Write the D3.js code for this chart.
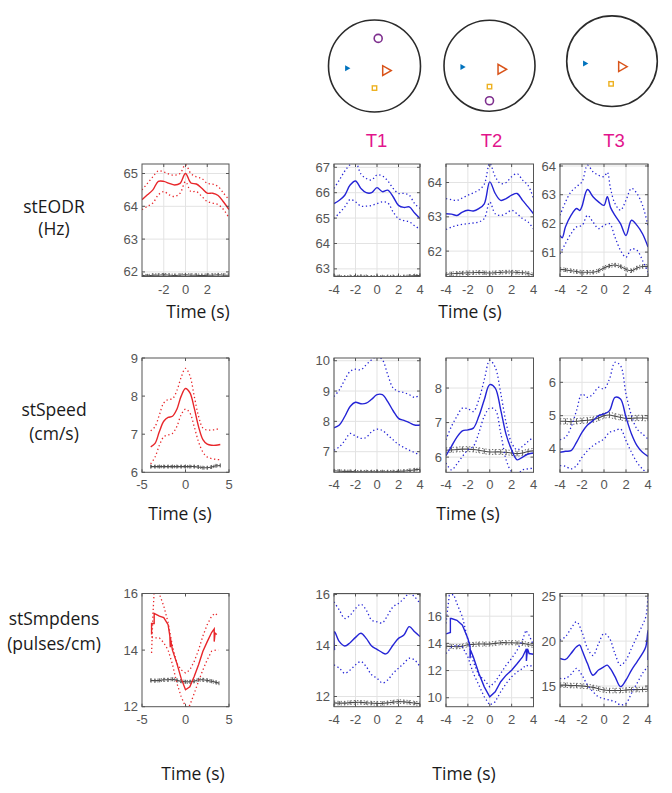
<!DOCTYPE html>
<html><head><meta charset="utf-8">
<script src="https://cdn.jsdelivr.net/npm/d3@7"></script>
<style>html,body{margin:0;padding:0;background:#fff;}svg{display:block;}</style>
</head><body>
<script>
// ---------- DATA ----------
const T = [-4,-3.5,-3,-2.5,-2,-1.5,-1,-0.5,0,0.5,1,1.5,2,2.5,3,3.5,4];
const trialLabels = ["T1","T2","T3"];
const rowLabels = [["stEODR","(Hz)"],["stSpeed","(cm/s)"],["stSmpdens","(pulses/cm)"]];
const xLabel = "Time (s)";

// arena object positions (arena units, -1..1)
const arenaBlue   = [[-0.6,0.05],[-0.6,0.03],[-0.6,0.05]];
const arenaOrange = [[0.24,0.1],[0.25,0.08],[0.21,0.12]];
const arenaYellow = [[0.0,0.48],[0.0,0.46],[-0.02,0.5]];
const arenaPurple = [[0.08,-0.6],[0.0,0.77],null];

// Row 1: stEODR
const eodrLeftMean = [64.2,64.35,64.5,64.76,64.76,64.7,64.65,64.7,65.0,64.71,64.68,64.55,64.4,64.4,64.33,64.13,63.9];
const eodrLeftUp   = [64.5,64.7,64.9,65.08,65.05,64.98,64.95,65.0,65.27,65.0,64.9,64.85,64.7,64.68,64.6,64.4,64.2];
const eodrLeftLo   = [63.9,64.0,64.1,64.35,64.45,64.35,64.3,64.4,64.75,64.45,64.45,64.3,64.15,64.1,64.05,63.9,63.65];
const eodrLeftCtl  = [61.9,61.88,61.9,61.9,61.91,61.9,61.89,61.9,61.91,61.9,61.9,61.89,61.9,61.9,61.91,61.9,61.9];

const eodrT1Mean = [65.57,65.7,65.9,66.3,66.46,66.17,66.0,66.0,66.2,66.04,66.1,65.84,65.5,65.42,65.44,65.2,64.98];
const eodrT1Up   = [66.17,66.5,66.85,67.1,67.2,66.74,66.56,66.5,66.7,66.66,66.47,66.17,65.97,65.97,65.9,65.57,65.38];
const eodrT1Lo   = [64.98,65.2,65.44,65.73,65.64,65.47,65.47,65.5,65.57,65.64,65.6,65.24,64.98,64.9,64.85,64.7,64.56];
const eodrT1Ctl  = [62.72,62.7,62.68,62.7,62.7,62.71,62.7,62.68,62.7,62.69,62.7,62.7,62.68,62.7,62.72,62.73,62.74];

const eodrT2Mean = [63.09,63.08,63.04,63.14,63.19,63.17,63.24,63.38,64.02,63.68,63.48,63.53,63.63,63.68,63.48,63.29,63.09];
const eodrT2Up   = [63.53,63.5,63.48,63.55,63.63,63.7,63.78,63.95,64.56,64.17,63.97,64.0,64.17,64.26,64.07,63.92,63.53];
const eodrT2Lo   = [62.63,62.7,62.75,62.78,62.8,62.82,62.85,62.95,63.43,63.09,63.04,63.1,63.19,63.09,62.95,62.85,62.65];
const eodrT2Ctl  = [61.32,61.34,61.35,61.36,61.37,61.37,61.38,61.37,61.36,61.37,61.38,61.39,61.39,61.38,61.37,61.35,61.3];

const eodrT3Mean = [[-4,61.58],[-3.8,61.5],[-3.5,61.88],[-3,62.28],[-2.5,62.52],[-2.2,62.45],[-2,62.6],[-1.5,63.18],[-1,62.93],[-0.5,62.75],[0,62.63],[0.3,62.93],[0.6,62.55],[1,62.28],[1.5,61.99],[2,61.58],[2.5,62.11],[3,61.93],[3.5,61.64],[4,61.18]];
const eodrT3Up   = [[-4,62.28],[-3.5,62.75],[-3,63.1],[-2.5,63.28],[-2,63.45],[-1.5,64.03],[-1,63.8],[-0.5,63.68],[0,63.63],[0.3,63.78],[0.6,63.2],[1,62.69],[1.5,62.46],[2,62.81],[2.5,63.22],[3,63.04],[3.5,62.63],[4,61.93]];
const eodrT3Lo   = [[-4,60.94],[-3.5,61.3],[-3,61.64],[-2.5,61.88],[-2,61.93],[-1.5,62.28],[-1,62.05],[-0.5,61.82],[0,61.93],[0.5,61.99],[1,61.52],[1.5,61.06],[2,60.82],[2.5,61.11],[3,61.06],[3.5,60.71],[4,60.3]];
const eodrT3Ctl  = [60.4,60.38,60.35,60.32,60.3,60.3,60.3,60.35,60.45,60.52,60.55,60.5,60.4,60.35,60.45,60.5,60.5];

// Row 2: stSpeed
const speedLeftMean = [6.67,6.76,7.07,7.34,7.44,7.47,7.65,8.0,8.2,8.09,7.69,7.2,6.86,6.74,6.71,6.71,6.73];
const speedLeftUp   = [7.09,7.2,7.51,7.82,7.91,7.93,8.14,8.49,8.73,8.54,8.0,7.47,7.16,7.11,7.11,7.12,7.17];
const speedLeftLo   = [6.22,6.4,6.71,6.93,6.98,7.02,7.2,7.51,7.66,7.56,7.2,6.8,6.53,6.4,6.36,6.34,6.33];
const speedLeftCtl  = [6.15,6.15,6.15,6.15,6.15,6.15,6.15,6.15,6.15,6.15,6.15,6.14,6.12,6.12,6.14,6.17,6.18];

const speedT1Mean = [7.79,7.88,8.16,8.49,8.63,8.58,8.6,8.73,8.88,8.88,8.65,8.35,8.1,8.03,7.96,7.88,7.88];
const speedT1Up   = [8.82,9.04,9.37,9.65,9.72,9.7,9.87,10.03,10.14,10.03,9.54,9.1,8.99,8.95,8.88,8.79,8.88];
const speedT1Lo   = [7.05,7.16,7.36,7.6,7.52,7.44,7.47,7.66,7.74,7.7,7.55,7.39,7.24,7.14,7.05,6.97,6.89];
const speedT1Ctl  = [6.37,6.36,6.35,6.35,6.34,6.34,6.34,6.34,6.34,6.34,6.34,6.34,6.35,6.36,6.38,6.4,6.42];

const speedT2Mean = [6.04,6.31,6.58,6.76,6.79,6.84,7.18,7.66,8.1,8.0,7.37,6.65,6.21,5.92,6.0,6.09,6.12];
const speedT2Up   = [6.5,6.89,7.18,7.42,7.4,7.32,7.66,8.24,8.8,8.6,7.86,6.99,6.41,6.21,6.31,6.45,6.58];
const speedT2Lo   = [5.83,5.63,5.8,6.02,6.21,6.31,6.7,7.18,7.42,7.37,6.7,5.92,5.58,5.5,5.63,5.66,5.68];
const speedT2Ctl  = [6.2,6.21,6.22,6.23,6.23,6.22,6.2,6.17,6.15,6.15,6.15,6.14,6.12,6.1,6.12,6.16,6.18];

const speedT3Mean = [3.9,3.93,3.95,4.2,4.5,4.72,4.85,5.0,5.05,5.15,5.55,5.5,4.95,4.45,4.1,3.9,3.78];
const speedT3Up   = [4.28,4.35,4.65,5.15,5.65,5.55,5.65,5.85,5.8,6.1,6.6,6.5,5.65,5.0,4.6,4.45,4.3];
const speedT3Lo   = [3.5,3.48,3.4,3.5,3.75,3.95,4.1,4.2,4.3,4.5,4.55,4.6,4.25,3.9,3.6,3.4,3.25];
const speedT3Ctl  = [4.83,4.83,4.82,4.83,4.85,4.86,4.88,4.93,5.0,5.02,4.98,4.95,4.92,4.92,4.93,4.93,4.92];

// Row 3: stSmpdens
const smpLeftMean = [[-3.9,14.55],[-3.9,14.94],[-3.6,14.94],[-3.6,15.3],[-3,15.2],[-2.5,15.15],[-2,14.9],[-1.8,14.5],[-1.75,14.1],[-1.75,14.45],[-1.5,14.0],[-1,13.54],[-0.5,13.0],[0,12.6],[0.5,12.7],[1,13.07],[1.5,13.48],[2,13.96],[2.5,14.3],[3,14.62],[3.3,14.75],[3.3,14.3],[3.4,14.6],[3.6,14.55]];
const smpLeftUp   = [[-3.9,13.9],[-3.75,15.2],[-3.6,16.1],[-3,15.98],[-2.5,15.56],[-2,14.97],[-1.5,14.14],[-1,13.54],[-0.5,13.3],[0,13.19],[0.5,13.3],[1,13.6],[1.5,14.0],[2,14.5],[2.5,14.9],[3,15.2],[3.4,15.3],[3.8,15.2]];
const smpLeftLo   = [[-3.9,14.45],[-3.5,14.43],[-3,14.43],[-2.5,14.26],[-2,14.0],[-1.5,13.5],[-1,12.84],[-0.5,12.36],[0,12.0],[0.5,12.05],[1,12.47],[1.5,12.9],[2,13.3],[2.5,13.66],[3,13.96],[3.5,14.0],[3.8,14.0]];
const smpLeftCtl  = [12.93,12.92,12.93,12.95,12.95,12.97,12.93,12.9,12.88,12.88,12.9,12.95,12.95,12.93,12.9,12.86,12.83];

const smpT1Mean = [[-3.95,13.82],[-3.95,14.54],[-3.5,14.15],[-3,13.98],[-2.5,14.11],[-2,14.32],[-1.5,14.48],[-1,14.28],[-0.5,13.98],[0,13.85],[0.5,13.72],[0.8,13.67],[1,13.72],[1.5,14.02],[2,14.28],[2.5,14.41],[3,14.74],[3.5,14.54],[4,14.35]];
const smpT1Up   = [15.71,15.39,15.06,15.19,15.45,15.62,15.39,15.0,14.93,14.89,15.19,15.52,15.65,15.84,16.04,15.91,15.65];
const smpT1Lo   = [13.24,13.11,12.91,13.04,13.24,13.37,13.17,12.85,12.72,12.53,12.65,12.91,13.11,13.3,13.5,13.43,13.17];
const smpT1Ctl  = [11.75,11.74,11.74,11.76,11.77,11.77,11.75,11.74,11.73,11.73,11.75,11.78,11.8,11.79,11.77,11.74,11.72];

const smpT2Mean = [[-4,14.7],[-3.6,14.8],[-3.6,15.83],[-3.5,15.83],[-3,15.7],[-2.5,15.34],[-2,14.36],[-1.8,13.8],[-1.8,12.9],[-1.75,13.5],[-1.5,13.0],[-1,11.8],[-0.5,10.8],[0,10.07],[0.5,10.44],[1,11.18],[1.5,11.66],[2,12.03],[2.5,12.5],[3,13.0],[3.35,13.6],[3.35,12.7],[3.45,13.6],[3.6,13.25],[4,13.2]];
const smpT2Up   = [[-4,15.46],[-3.7,17.54],[-3.3,17.6],[-3,16.93],[-2.5,15.95],[-2,14.24],[-1.5,12.64],[-1,11.66],[-0.5,11.3],[0,10.8],[0.5,11.18],[1,11.79],[1.5,12.4],[2,12.89],[2.5,13.5],[3,14.24],[3.3,14.97],[3.6,14.6],[4,13.87]];
const smpT2Lo   = [[-4,13.25],[-3.5,13.74],[-3,13.87],[-2.5,13.74],[-2,13.0],[-1.5,11.79],[-1,10.93],[-0.5,10.07],[0,9.46],[0.5,9.7],[1,10.44],[1.5,11.05],[2,11.54],[2.5,11.9],[3,12.15],[3.3,12.4],[3.6,12.3],[4,12.4]];
const smpT2Ctl  = [13.8,13.78,13.75,13.8,13.9,13.92,13.95,13.95,13.95,14.0,14.05,14.05,14.05,14.03,14.0,13.92,13.85];

const smpT3Mean = [[-4,18.07],[-3.5,17.96],[-3,18.63],[-2.5,19.37],[-2.2,19.56],[-2,19.0],[-1.5,17.5],[-1,16.2],[-0.5,16.78],[0,17.15],[0.3,17.33],[0.6,16.9],[1,16.04],[1.5,14.93],[2,15.67],[2.5,16.78],[3,17.7],[3.5,18.63],[3.8,19.37],[4,21.2],[4,17.9]];
const smpT3Up   = [[-4,20.1],[-3.5,20.5],[-3,21.4],[-2.5,22.15],[-2,21.0],[-1.5,19.2],[-1,18.4],[-0.5,19.7],[0,20.85],[0.5,20.3],[1,18.6],[1.5,17.3],[2,17.9],[2.5,19.2],[3,20.5],[3.5,21.8],[3.8,22.7],[4,25.1]];
const smpT3Lo   = [[-4,15.85],[-3.5,15.85],[-3,16.3],[-2.5,16.96],[-2,16.2],[-1.5,15.1],[-1,14.37],[-0.5,13.8],[0,13.6],[0.5,13.44],[1,13.26],[1.5,12.9],[2,13.07],[2.5,14.2],[3,15.3],[3.5,16.4],[4,17.2]];
const smpT3Ctl  = [15.1,15.1,15.05,15.05,15.0,14.95,14.85,14.7,14.55,14.5,14.5,14.5,14.55,14.6,14.6,14.62,14.65];

// control-band half widths
const ctlSpread = {eodrLeft:0.04,eodrT1:0.04,eodrT2:0.05,eodrT3:0.06,speedLeft:0.03,speedT1:0.04,speedT2:0.07,speedT3:0.08,smpLeft:0.05,smpT1:0.07,smpT2:0.15,smpT3:0.25};

// axis ticks
const xTicksLeftR1 = [-2,0,2], xTicksLeft = [-5,0,5], xTicksRight = [-4,-2,0,2,4];

// ---------- LAYOUT ----------
const RED = "#e8262a", BLUE = "#2424d6", CTL = "#4a4a4a";
const colsX = {L:[142,229], T1:[334,420], T2:[446,533.5], T3:[560,648]};
const rowsY = [[164,276.5],[358,472.3],[593.5,706.7]];

const panels = [
 {col:"L",row:0,xd:[-4,4],yd:[61.86,65.29],xt:xTicksRight.slice(1,4),yt:[62,63,64,65],grid:true,c:RED,m:eodrLeftMean,u:eodrLeftUp,l:eodrLeftLo,g:eodrLeftCtl,s:ctlSpread.eodrLeft},
 {col:"T1",row:0,xd:[-4,4],yd:[62.7,67.13],xt:xTicksRight,yt:[63,64,65,66,67],grid:true,c:BLUE,m:eodrT1Mean,u:eodrT1Up,l:eodrT1Lo,g:eodrT1Ctl,s:ctlSpread.eodrT1},
 {col:"T2",row:0,xd:[-4,4],yd:[61.26,64.54],xt:xTicksRight,yt:[62,63,64],grid:true,c:BLUE,m:eodrT2Mean,u:eodrT2Up,l:eodrT2Lo,g:eodrT2Ctl,s:ctlSpread.eodrT2},
 {col:"T3",row:0,xd:[-4,4],yd:[60.15,64.07],xt:xTicksRight,yt:[61,62,63,64],grid:true,c:BLUE,m:eodrT3Mean,u:eodrT3Up,l:eodrT3Lo,g:eodrT3Ctl,s:ctlSpread.eodrT3},
 {col:"L",row:1,xd:[-5,5],yd:[6,9],xt:xTicksLeft,yt:[6,7,8,9],grid:false,c:RED,m:speedLeftMean,u:speedLeftUp,l:speedLeftLo,g:speedLeftCtl,s:ctlSpread.speedLeft},
 {col:"T1",row:1,xd:[-4,4],yd:[6.32,10.09],xt:xTicksRight,yt:[7,8,9,10],grid:true,c:BLUE,m:speedT1Mean,u:speedT1Up,l:speedT1Lo,g:speedT1Ctl,s:ctlSpread.speedT1},
 {col:"T2",row:1,xd:[-4,4],yd:[5.56,8.87],xt:xTicksRight,yt:[6,7,8],grid:true,c:BLUE,m:speedT2Mean,u:speedT2Up,l:speedT2Lo,g:speedT2Ctl,s:ctlSpread.speedT2},
 {col:"T3",row:1,xd:[-4,4],yd:[3.3,6.73],xt:xTicksRight,yt:[4,5,6],grid:true,c:BLUE,m:speedT3Mean,u:speedT3Up,l:speedT3Lo,g:speedT3Ctl,s:ctlSpread.speedT3},
 {col:"L",row:2,xd:[-5,5],yd:[12,16],xt:xTicksLeft,yt:[12,14,16],grid:false,c:RED,m:smpLeftMean,u:smpLeftUp,l:smpLeftLo,g:smpLeftCtl,s:ctlSpread.smpLeft,lin:true,gEnd:3.85},
 {col:"T1",row:2,xd:[-4,4],yd:[11.6,16.04],xt:xTicksRight,yt:[12,14,16],grid:true,c:BLUE,m:smpT1Mean,u:smpT1Up,l:smpT1Lo,g:smpT1Ctl,s:ctlSpread.smpT1},
 {col:"T2",row:2,xd:[-4,4],yd:[9.34,17.67],xt:xTicksRight,yt:[10,12,14,16],grid:true,c:BLUE,m:smpT2Mean,u:smpT2Up,l:smpT2Lo,g:smpT2Ctl,s:ctlSpread.smpT2,lin:true},
 {col:"T3",row:2,xd:[-4,4],yd:[12.7,25.3],xt:xTicksRight,yt:[15,20,25],grid:true,c:BLUE,m:smpT3Mean,u:smpT3Up,l:smpT3Lo,g:smpT3Ctl,s:ctlSpread.smpT3}
];

const W = 672, H = 793;
const svg = d3.select("body").append("svg").attr("width",W).attr("height",H)
  .style("font-family","'Liberation Sans', Arial, sans-serif");
svg.append("rect").attr("width",W).attr("height",H).attr("fill","#fff");
const defs = svg.append("defs");

// ---------- ARENAS ----------
const arenas = [{cx:374.5,cy:66,r:46},{cx:489.5,cy:65.7,r:45.5},{cx:612,cy:61.2,r:45.3}];
arenas.forEach((a,i)=>{
  const sc = d3.scaleLinear().domain([-1,1]).range([-a.r,a.r]);
  const g = svg.append("g").attr("transform",`translate(${a.cx},${a.cy})`);
  g.append("circle").attr("r",a.r).attr("fill","none").attr("stroke","#2b2b2b").attr("stroke-width",1.6);
  const b = arenaBlue[i];
  g.append("path").attr("d",d3.symbol(d3.symbolTriangle,16)()).attr("fill","#0072BD")
    .attr("transform",`translate(${sc(b[0])},${sc(b[1])}) rotate(90)`);
  const o = arenaOrange[i];
  g.append("path").attr("d",d3.symbol(d3.symbolTriangle,42)()).attr("fill","none").attr("stroke","#D95319").attr("stroke-width",1.5)
    .attr("transform",`translate(${sc(o[0])},${sc(o[1])}) rotate(90)`);
  const y = arenaYellow[i];
  g.append("rect").attr("x",sc(y[0])-2.2).attr("y",sc(y[1])-2.2).attr("width",4.4).attr("height",4.4)
    .attr("fill","none").attr("stroke","#EDB120").attr("stroke-width",1.4);
  const p = arenaPurple[i];
  if (p) g.append("circle").attr("cx",sc(p[0])).attr("cy",sc(p[1])).attr("r",4).attr("fill","none").attr("stroke","#7E2F8E").attr("stroke-width",1.6);
  svg.append("text").attr("x",a.cx+2).attr("y",146.5).attr("text-anchor","middle")
    .attr("font-size",18.5).attr("fill","#e2148c").text(trialLabels[i]);
});

// ---------- PANELS ----------
function toPts(arr){ return (typeof arr[0] === "number") ? arr.map((v,i)=>[T[i],v]) : arr; }

panels.forEach((p,pi)=>{
  const [x0,x1] = colsX[p.col], [y0,y1] = rowsY[p.row];
  const x = d3.scaleLinear().domain(p.xd).range([x0,x1]);
  const y = d3.scaleLinear().domain(p.yd).range([y1,y0]);
  const g = svg.append("g");
  const cid = "clip"+pi;
  defs.append("clipPath").attr("id",cid).append("rect").attr("x",x0).attr("y",y0).attr("width",x1-x0).attr("height",y1-y0);

  if (p.grid){
    g.selectAll(".gx").data(p.xt).join("line").attr("x1",d=>x(d)).attr("x2",d=>x(d)).attr("y1",y0).attr("y2",y1)
      .attr("stroke","#e3e3e3").attr("stroke-width",1);
    g.selectAll(".gy").data(p.yt).join("line").attr("y1",d=>y(d)).attr("y2",d=>y(d)).attr("x1",x0).attr("x2",x1)
      .attr("stroke","#e3e3e3").attr("stroke-width",1);
  }

  const plot = g.append("g").attr("clip-path",`url(#${cid})`);
  const line = d3.line().x(d=>x(d[0])).y(d=>y(d[1])).curve(p.lin ? d3.curveLinear : d3.curveCatmullRom.alpha(0.5));
  const smooth = d3.line().x(d=>x(d[0])).y(d=>y(d[1])).curve(d3.curveCatmullRom.alpha(0.5));

  // control (gray) band
  let gPts = toPts(p.g);
  if (p.gEnd) gPts = gPts.map(d=>[Math.min(d[0],p.gEnd),d[1]]);
  const gU = gPts.map(d=>[d[0],d[1]+p.s]), gL = gPts.map(d=>[d[0],d[1]-p.s]);
  [gU,gL].forEach(b=>plot.append("path").attr("d",smooth(b)).attr("fill","none").attr("stroke","#6a6a6a")
    .attr("stroke-width",1).attr("stroke-dasharray","1.3,2"));
  plot.append("path").attr("d",smooth(gPts)).attr("fill","none").attr("stroke",CTL).attr("stroke-width",1.1);
  plot.selectAll(".ct").data(gPts).join("line")
    .attr("x1",d=>x(d[0])).attr("x2",d=>x(d[0]))
    .attr("y1",d=>Math.min(y(d[1]+p.s),y(d[1])-2)).attr("y2",d=>Math.max(y(d[1]-p.s),y(d[1])+2))
    .attr("stroke","#555").attr("stroke-width",0.9);

  // main series
  [p.u,p.l].forEach(b=>plot.append("path").attr("d",line(toPts(b))).attr("fill","none").attr("stroke",p.c)
    .attr("stroke-width",1.3).attr("stroke-dasharray","1.3,2.6"));
  plot.append("path").attr("d",line(toPts(p.m))).attr("fill","none").attr("stroke",p.c).attr("stroke-width",1.4);

  // box
  g.append("rect").attr("x",x0).attr("y",y0).attr("width",x1-x0).attr("height",y1-y0)
    .attr("fill","none").attr("stroke","#555").attr("stroke-width",1);
  // ticks (inward, all sides)
  const tk = 3;
  p.xt.forEach(v=>{
    g.append("line").attr("x1",x(v)).attr("x2",x(v)).attr("y1",y1).attr("y2",y1-tk).attr("stroke","#555");
    g.append("line").attr("x1",x(v)).attr("x2",x(v)).attr("y1",y0).attr("y2",y0+tk).attr("stroke","#555");
  });
  p.yt.forEach(v=>{
    g.append("line").attr("x1",x0).attr("x2",x0+tk).attr("y1",y(v)).attr("y2",y(v)).attr("stroke","#555");
    g.append("line").attr("x1",x1).attr("x2",x1-tk).attr("y1",y(v)).attr("y2",y(v)).attr("stroke","#555");
  });
  // tick labels
  g.selectAll(".xl").data(p.xt).join("text").attr("x",d=>x(d)).attr("y",y1+17).attr("text-anchor","middle")
    .attr("font-size",13).attr("fill","#555").text(d=>d);
  g.selectAll(".yl").data(p.yt).join("text").attr("x",x0-4).attr("y",d=>y(d)+4.5).attr("text-anchor","end")
    .attr("font-size",13).attr("fill","#555").text(d=>d);
});

// ---------- LABELS ----------
const labFont = "'Open Sans', 'DejaVu Sans', sans-serif";
const rowLabY = [[213,235],[416,440],[625,650]];
rowLabels.forEach((lab,i)=>{
  lab.forEach((s,j)=>svg.append("text").attr("x",54).attr("y",rowLabY[i][j]).attr("text-anchor","middle")
    .attr("font-family",labFont).attr("font-size",17.5).attr("fill","#1a1a1a").text(s));
});
const timeLabs = [[198,318],[470,318],[180,520],[468,520],[193,780],[464,780]];
timeLabs.forEach(([cx,by])=>svg.append("text").attr("x",cx).attr("y",by).attr("text-anchor","middle")
  .attr("font-family",labFont).attr("font-size",17.5).attr("fill","#1a1a1a").text(xLabel));
</script>
</body></html>
